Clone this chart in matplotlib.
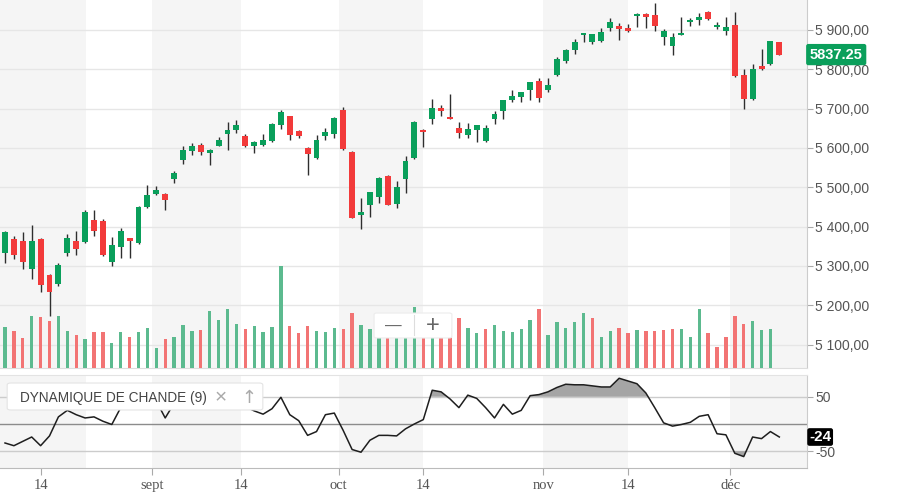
import numpy as np
import matplotlib
matplotlib.use('Agg')
import matplotlib.pyplot as plt
from matplotlib.patches import FancyBboxPatch
from matplotlib.ticker import FuncFormatter

plt.rcParams['font.family'] = ['Liberation Sans', 'DejaVu Sans']

# ---------- données (une bougie par séance) ----------
opens = [5334, 5368, 5363, 5292, 5368, 5277, 5254, 5332, 5363, 5361,
         5416, 5413, 5309, 5347, 5370, 5358, 5450, 5482, 5484, 5520,
         5569, 5591, 5608, 5586, 5606, 5635, 5646, 5630, 5604, 5608,
         5617, 5659, 5680, 5644, 5600, 5574, 5630, 5636, 5697, 5589,
         5429, 5454, 5475, 5528, 5458, 5522, 5575, 5646, 5674, 5701,
         5679, 5651, 5634, 5645, 5617, 5674, 5695, 5721, 5729, 5748,
         5771, 5748, 5786, 5821, 5849, 5886, 5868, 5873, 5904, 5910,
         5904, 5935, 5941, 5938, 5881, 5860, 5887, 5920, 5925, 5945,
         5908, 5896, 5913, 5786, 5725, 5807, 5814, 5868]
highs = [5390, 5376, 5387, 5403, 5370, 5280, 5307, 5380, 5389, 5441,
         5441, 5420, 5374, 5397, 5371, 5452, 5505, 5503, 5486, 5541,
         5604, 5613, 5613, 5596, 5628, 5667, 5672, 5635, 5618, 5636,
         5663, 5697, 5681, 5645, 5602, 5634, 5651, 5679, 5704, 5591,
         5472, 5489, 5525, 5532, 5515, 5579, 5669, 5647, 5724, 5710,
         5738, 5665, 5663, 5659, 5657, 5693, 5723, 5746, 5742, 5768,
         5777, 5778, 5830, 5851, 5876, 5893, 5889, 5906, 5931, 5917,
         5915, 5942, 5942, 5968, 5903, 5893, 5932, 5930, 5942, 5948,
         5921, 5932, 5946, 5800, 5813, 5851, 5873, 5870]
lows = [5307, 5317, 5293, 5268, 5233, 5172, 5249, 5325, 5327, 5359,
        5376, 5325, 5300, 5320, 5321, 5356, 5448, 5480, 5442, 5512,
        5560, 5583, 5583, 5556, 5605, 5594, 5638, 5603, 5587, 5604,
        5616, 5648, 5619, 5624, 5531, 5573, 5621, 5625, 5595, 5421,
        5395, 5425, 5461, 5454, 5447, 5486, 5573, 5603, 5662, 5680,
        5673, 5624, 5625, 5614, 5614, 5662, 5674, 5717, 5717, 5723,
        5718, 5741, 5784, 5817, 5838, 5870, 5865, 5870, 5896, 5875,
        5894, 5908, 5904, 5897, 5862, 5837, 5886, 5910, 5913, 5924,
        5903, 5887, 5780, 5699, 5722, 5799, 5812, 5835]
closes = [5387, 5327, 5310, 5363, 5251, 5234, 5302, 5370, 5342, 5437,
          5388, 5327, 5352, 5389, 5363, 5450, 5480, 5494, 5467, 5537,
          5594, 5606, 5589, 5594, 5619, 5645, 5657, 5604, 5616, 5621,
          5660, 5691, 5632, 5630, 5585, 5619, 5641, 5676, 5596, 5423,
          5438, 5489, 5524, 5455, 5500, 5568, 5667, 5640, 5701, 5695,
          5674, 5638, 5649, 5657, 5651, 5685, 5723, 5731, 5742, 5768,
          5728, 5761, 5826, 5849, 5868, 5892, 5889, 5895, 5920, 5903,
          5896, 5940, 5932, 5911, 5896, 5881, 5892, 5925, 5934, 5928,
          5913, 5907, 5783, 5725, 5800, 5801, 5871, 5837.25]
# volume (milliers), pas encore de volume pour la dernière séance
volume = [410, 370, 300, 520, 510, 470, 520, 370, 330, 290,
          360, 360, 250, 360, 310, 360, 400, 200, 290, 310,
          430, 370, 380, 570, 480, 590, 440, 390, 420, 360,
          410, 1020, 420, 350, 420, 370, 360, 400, 390, 550,
          430, 390, 400, 480, 420, 440, 610, 380, 420, 360,
          400, 500, 400, 350, 390, 430, 370, 360, 390, 480,
          590, 330, 460, 400, 460, 550, 500, 310, 370, 400,
          350, 380, 370, 370, 380, 390, 390, 310, 590, 350,
          210, 310, 520, 440, 470, 380, 390]
# Dynamique de Chande (9)
cmo = [-35, -40, -32, -24, -40, -22, 13, 25, 17, 11,
       13, 5, -1, 30, 38, 48, 58, 42, 11, 38,
       52, 56, 48, 40, 46, 42, 48, 32, 24, 18,
       28, 49, 17, 6, -21, -14, 17, 20, -12, -47,
       -52, -30, -21, -21, -22, -9, 0, 8, 62, 59,
       46, 30, 53, 47, 30, 11, 36, 18, 25, 52,
       54, 59, 67, 73, 72, 72, 70, 68, 68, 84,
       79, 74, 57, 30, 2, -4, -1, 3, 14, 17,
       -18, -20, -54, -60, -24, -27, -14, -24]

date_ticks = [4, 16.5, 26.5, 37.5, 47, 60.5, 70, 81.5]
date_labels = ['14', 'sept', '14', 'oct', '14', 'nov', '14', 'déc']
price_ticks = [5100, 5200, 5300, 5400, 5500, 5600, 5700, 5800, 5900]
cmo_ticks = [50, -50]

# bandes grises en arrière-plan (en séances)
bands = [(-1, 9.05), (16.5, 26.5), (37.5, 47), (60.5, 70), (81.5, 95)]

GREEN, RED = '#0a9f5b', '#f23a3a'
VGREEN, VRED = '#5cba8f', '#f27474'
BAND = '#f5f5f5'
XLIM = (-0.562, 90.11)

W, H = 910, 494
fig = plt.figure(figsize=(W / 100, H / 100), dpi=100)


def px_rect(x0, y0, x1, y1):
    return [x0 / W, 1 - y1 / H, (x1 - x0) / W, (y1 - y0) / H]


# ---------- panneau des prix ----------
ax = fig.add_axes(px_rect(0, 0, 807, 368))
axv = ax.twinx()   # volume en superposition (twinx remet les ticks à gauche)
x = np.arange(len(closes))
o, h, l, c = (np.array(v, dtype=float) for v in (opens, highs, lows, closes))

for b0, b1 in bands:
    ax.axvspan(b0, b1, color=BAND, lw=0, zorder=0)
for p in price_ticks:
    ax.axhline(p, color='#e6e6e6', lw=1, zorder=0.5)

ax.vlines(x, l, h, color='#2e2e2e', lw=1, zorder=2)
col = np.where(c >= o, GREEN, RED)
ax.bar(x, np.maximum(np.abs(c - o), 3), 0.67, bottom=np.minimum(o, c),
       color=col, lw=0, zorder=3)

ax.set_xlim(*XLIM)
ax.set_ylim(5040.6, 5976)
ax.yaxis.tick_right()
ax.set_yticks(price_ticks)
ax.yaxis.set_major_formatter(FuncFormatter(
    lambda v, _: f"{int(v) // 1000} {int(v) % 1000:03d},00"))
ax.tick_params(axis='y', length=4, width=0.8, color='#aaaaaa', pad=2,
               labelsize=10, labelcolor='#555555')
ax.set_xticks([])
for s in ('top', 'left'):
    ax.spines[s].set_visible(False)
ax.spines['right'].set_color('#cccccc')
ax.spines['bottom'].set_color('#dddddd')

ax.annotate(f'{closes[-1]:.2f}', xy=(1.0, closes[-1]),
            xycoords=('axes fraction', 'data'), xytext=(2, 0),
            textcoords='offset points', ha='left', va='center',
            color='white', fontweight='bold', fontsize=10.5,
            bbox=dict(boxstyle='round,pad=0.25,rounding_size=0.15',
                      fc=GREEN, ec='none'),
            annotation_clip=False, zorder=10)

vol = np.array(volume, dtype=float)
vup = np.r_[True, c[1:len(vol)] >= c[:len(vol) - 1]]
axv.bar(x[:len(vol)], vol, 0.38, color=np.where(vup, VGREEN, VRED), lw=0)
axv.set_ylim(0, 3680)
axv.set_xlim(*XLIM)
axv.set_yticks([])
for s in axv.spines.values():
    s.set_visible(False)

# ---------- panneau Dynamique de Chande ----------
axc = fig.add_axes(px_rect(0, 375, 807, 468))
cm = np.array(cmo, dtype=float)
for b0, b1 in bands:
    axc.axvspan(b0, b1, color=BAND, lw=0, zorder=0)
axc.axhline(50, color='#cccccc', lw=1, zorder=1)
axc.axhline(-50, color='#cccccc', lw=1, zorder=1)
axc.axhline(0, color='#8c8c8c', lw=1, zorder=1)
axc.fill_between(x, cm, 50, where=cm > 50, interpolate=True,
                 color='#a5a5a5', lw=0, zorder=2)
axc.fill_between(x, cm, -50, where=cm < -50, interpolate=True,
                 color='#a5a5a5', lw=0, zorder=2)
axc.plot(x, cm, color='#1e1e1e', lw=1.1, zorder=3)

axc.set_xlim(*XLIM)
axc.set_ylim(-81, 90)
axc.yaxis.tick_right()
axc.set_yticks(cmo_ticks)
axc.set_yticklabels([str(t) for t in cmo_ticks])
axc.tick_params(axis='y', length=4, width=0.8, color='#aaaaaa', pad=2,
                labelsize=10, labelcolor='#555555')
axc.set_xticks(date_ticks)
axc.set_xticklabels(date_labels)
axc.tick_params(axis='x', length=5, width=0.8, color='#aaaaaa', pad=3,
                labelsize=10.5, labelcolor='#555555')
for t in axc.get_xticklabels():
    t.set_fontfamily(['Liberation Serif', 'DejaVu Serif'])
axc.spines['left'].set_visible(False)
axc.spines['top'].set_color('#e3e3e3')
axc.spines['right'].set_color('#cccccc')
axc.spines['bottom'].set_color('#bbbbbb')

axc.annotate(f'{cmo[-1]:.0f}', xy=(1.0, cmo[-1]),
             xycoords=('axes fraction', 'data'), xytext=(1.5, 0),
             textcoords='offset points', ha='left', va='center',
             color='white', fontweight='bold', fontsize=11,
             bbox=dict(boxstyle='round,pad=0.12,rounding_size=0.15',
                       fc='black', ec='none'),
             annotation_clip=False, zorder=10)

# ---------- étiquette de l'indicateur ----------
fig.patches.append(FancyBboxPatch(
    (9 / W, 1 - 409 / H), 252 / W, 25 / H,
    boxstyle='round,pad=0.002,rounding_size=0.004', transform=fig.transFigure,
    fc='white', ec='#e4e4e4', lw=0.8, zorder=5))
fig.text(19.5 / W, 1 - 397.5 / H, 'DYNAMIQUE DE CHANDE (9)', fontsize=9.8,
         color='#444444', va='center', ha='left', zorder=6)
fig.text(221 / W, 1 - 397.5 / H, '×', fontsize=15, color='#aaaaaa',
         va='center', ha='center', zorder=6,
         family=['Liberation Sans', 'DejaVu Sans'])
fig.text(248.5 / W, 1 - 397.5 / H, '↑', fontsize=13, color='#aaaaaa',
         va='center', ha='center', zorder=6,
         family=['DejaVu Sans'])

# ---------- contrôle de zoom ----------
fig.patches.append(FancyBboxPatch(
    (375 / W, 1 - 337.5 / H), 76 / W, 24 / H,
    boxstyle='round,pad=0.001,rounding_size=0.003', transform=fig.transFigure,
    fc='white', ec='#ececec', lw=0.8, zorder=5))
fig.lines.append(plt.Line2D([414.3 / W, 414.3 / W],
                            [1 - 335 / H, 1 - 315 / H],
                            transform=fig.transFigure, color='#dddddd',
                            lw=0.8, zorder=6))
fig.text(393.5 / W, 1 - 326 / H, '—', fontsize=12, color='#666666',
         va='center', ha='center', zorder=6)
fig.text(432.7 / W, 1 - 326 / H, '+', fontsize=17, color='#666666',
         va='center', ha='center', zorder=6, fontweight='light')

fig.savefig('out.png', dpi=100)
